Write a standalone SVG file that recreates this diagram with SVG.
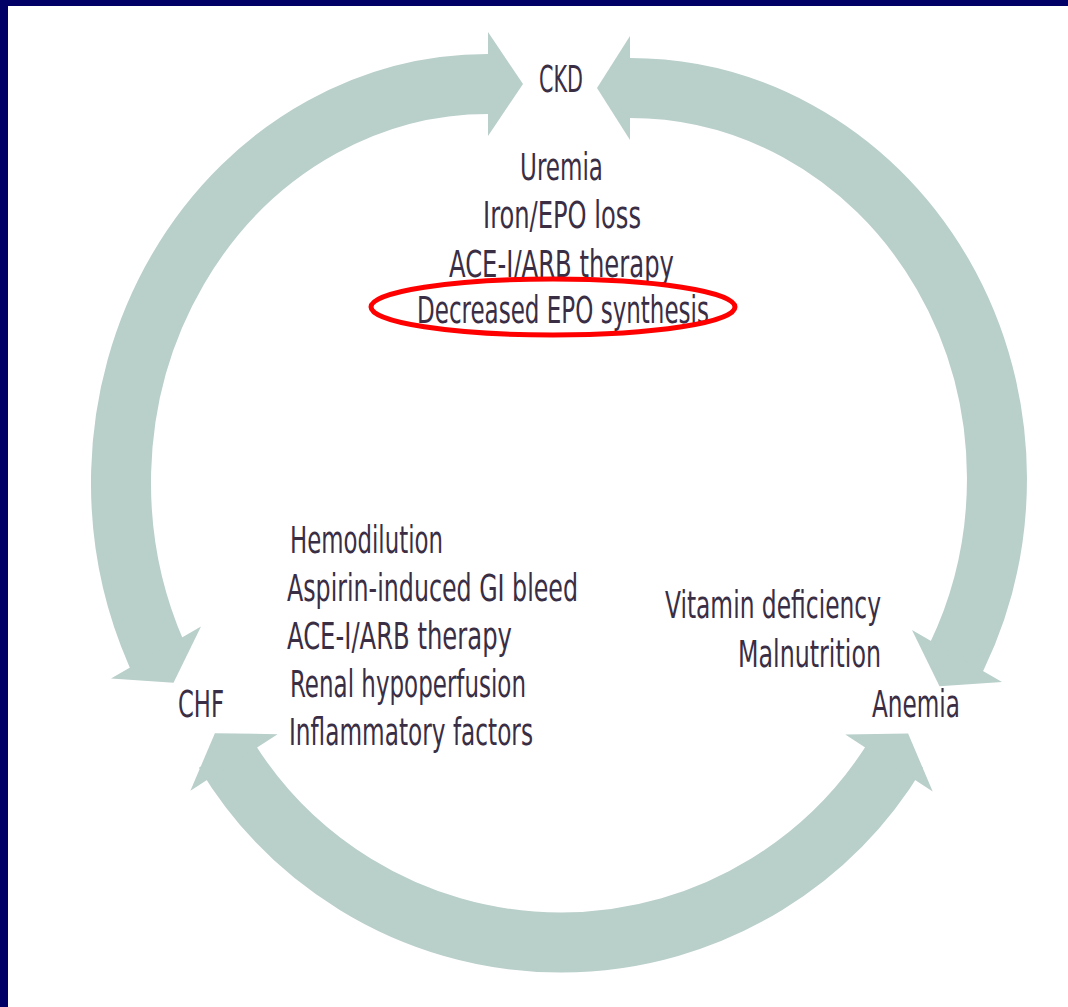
<svg xmlns="http://www.w3.org/2000/svg" width="1068" height="1007" viewBox="0 0 1068 1007">
<style>
.band{fill:none;stroke:#b9cfca;stroke-width:60;stroke-linecap:butt;stroke-linejoin:round}
.head{fill:#b9cfca}
.t{font-family:"Liberation Sans Narrow","DejaVu Sans Condensed","Liberation Sans",sans-serif;font-size:37px;fill:#3a2e45}
.ring{fill:none;stroke:#ff0000;stroke-width:5}
</style>
<rect x="0" y="0" width="1068" height="1007" fill="#ffffff"/>
<rect x="0" y="0" width="1068" height="6" fill="#000066"/>
<rect x="0" y="0" width="8" height="1007" fill="#000066"/>
<g id="connectors">
  <g id="arrow-ckd-chf">
    <path class="band" d="M 496 84 L 488 84 A 367 398.6 0 0 0 156 652.5 L 160 661.7"/>
    <polygon class="head" points="488,32 523,84 488,136"/>
    <polygon class="head" points="111,678.5 173.5,682.8 201,626.5"/>
  </g>
  <g id="arrow-ckd-anemia">
    <path class="band" d="M 622 88 L 630 88 A 367 390.7 0 0 1 957 656 L 952.7 665"/>
    <polygon class="head" points="630,36 597,88 630,140"/>
    <polygon class="head" points="1002,682 939.5,686.3 912,630"/>
  </g>
  <g id="arrow-chf-anemia">
    <path class="band" d="M 224.6 752.2 A 392.5 392.5 0 0 0 897.4 752.2"/>
    <polygon class="head" points="190.4,790.8 214.9,733.2 277.6,734.2"/>
    <polygon class="head" points="932.7,791.4 908.1,733.6 845.3,734.6"/>
  </g>
</g>
<g id="node-ckd">
  <text class="t" x="539" y="92" textLength="44" lengthAdjust="spacingAndGlyphs">CKD</text>
</g>
<g id="node-ckd-factors">
  <text class="t" x="520" y="180" textLength="83" lengthAdjust="spacingAndGlyphs">Uremia</text>
  <text class="t" x="483" y="228" textLength="158" lengthAdjust="spacingAndGlyphs">Iron/EPO loss</text>
  <text class="t" x="449" y="277" textLength="225" lengthAdjust="spacingAndGlyphs">ACE-I/ARB therapy</text>
  <text class="t" x="417" y="323" textLength="292" lengthAdjust="spacingAndGlyphs">Decreased EPO synthesis</text>
  <ellipse class="ring" cx="553" cy="307" rx="182" ry="28"/>
</g>
<g id="node-chf">
  <text class="t" x="178" y="717" textLength="46" lengthAdjust="spacingAndGlyphs">CHF</text>
</g>
<g id="node-chf-factors">
  <text class="t" x="290" y="553" textLength="153" lengthAdjust="spacingAndGlyphs">Hemodilution</text>
  <text class="t" x="287" y="601" textLength="291" lengthAdjust="spacingAndGlyphs">Aspirin-induced GI bleed</text>
  <text class="t" x="287" y="649" textLength="225" lengthAdjust="spacingAndGlyphs">ACE-I/ARB therapy</text>
  <text class="t" x="290" y="697" textLength="236" lengthAdjust="spacingAndGlyphs">Renal hypoperfusion</text>
  <text class="t" x="289" y="745" textLength="244" lengthAdjust="spacingAndGlyphs">Inflammatory factors</text>
</g>
<g id="node-anemia">
  <text class="t" x="872" y="717" textLength="88" lengthAdjust="spacingAndGlyphs">Anemia</text>
</g>
<g id="node-anemia-factors">
  <text class="t" x="665" y="618" textLength="216" lengthAdjust="spacingAndGlyphs">Vitamin deficiency</text>
  <text class="t" x="738" y="667" textLength="143" lengthAdjust="spacingAndGlyphs">Malnutrition</text>
</g>
</svg>
